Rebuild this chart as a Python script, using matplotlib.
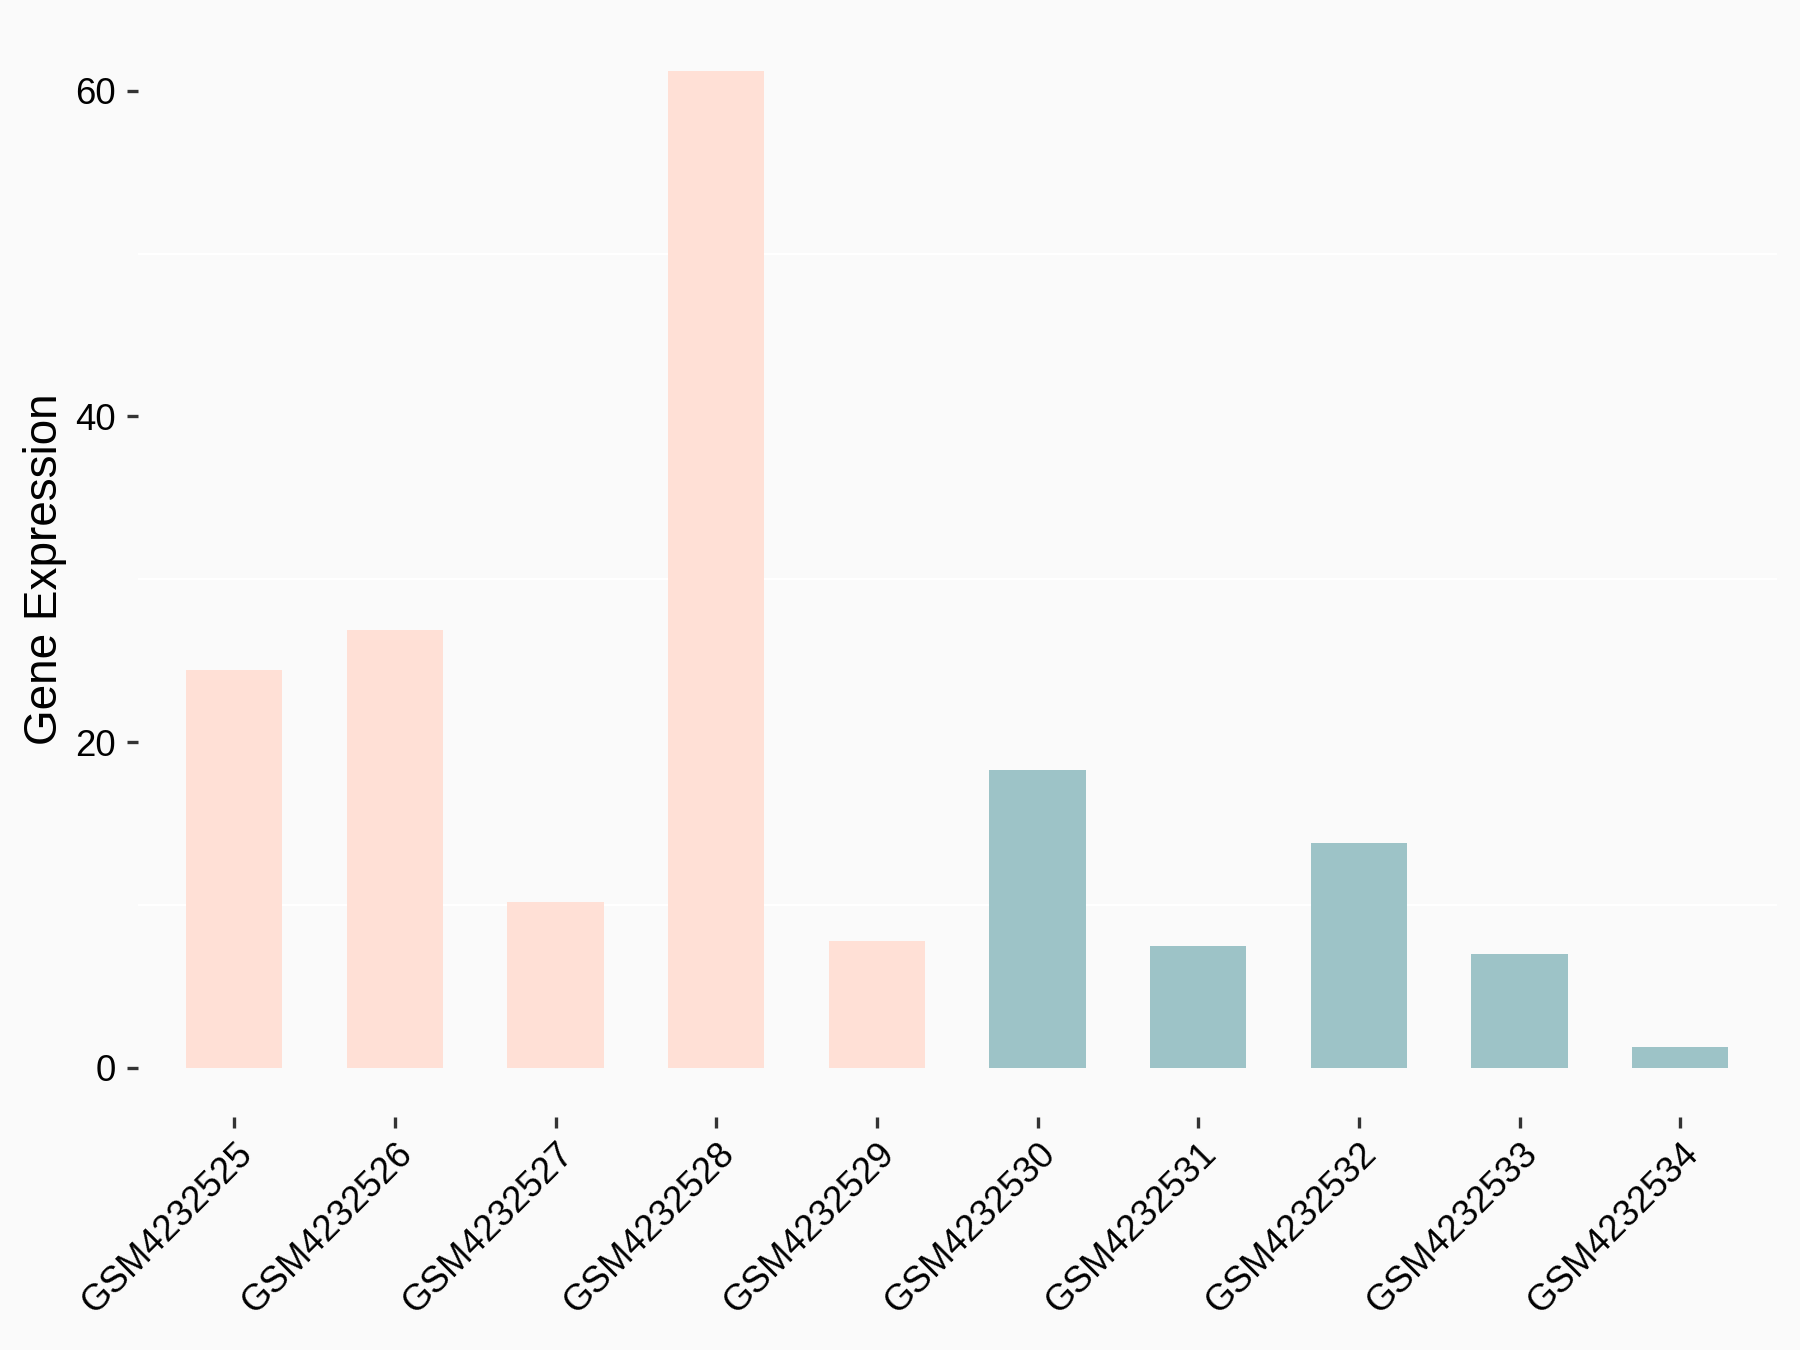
import matplotlib
matplotlib.use("Agg")
import matplotlib.pyplot as plt

samples = ["GSM4232525", "GSM4232526", "GSM4232527", "GSM4232528", "GSM4232529",
           "GSM4232530", "GSM4232531", "GSM4232532", "GSM4232533", "GSM4232534"]
values = [24.4, 26.9, 10.2, 61.2, 7.75, 18.3, 7.45, 13.8, 6.95, 1.27]
groups = ["A", "A", "A", "A", "A", "B", "B", "B", "B", "B"]
group_colors = {"A": "#FFE0D6", "B": "#9DC3C7"}
y_ticks = [0, 20, 40, 60]
y_minor = [10, 30, 50]

plt.rcParams['font.family'] = ['Liberation Sans', 'DejaVu Sans']
fig = plt.figure(figsize=(12, 9), dpi=150, facecolor="#FAFAFA")
ax = fig.add_axes([0.0766, 0.1723, 0.9104, 0.8117])
ax.set_facecolor("#FAFAFA")

x = list(range(len(samples)))
ax.bar(x, values, width=0.6, color=[group_colors[g] for g in groups], zorder=2)

ymax = max(values)
ax.set_xlim(-0.6, len(samples) - 0.4)
ax.set_ylim(-0.05 * ymax, ymax * 1.05)

ax.set_yticks(y_ticks)
ax.set_yticks(y_minor, minor=True)
ax.grid(False)
for v in y_minor:
    ax.axhline(v, color="white", lw=1.0, zorder=1)

for s in ax.spines.values():
    s.set_visible(False)

ax.tick_params(axis='y', which='major', length=5.3, width=1.6, color="#333333",
               labelsize=17.5, pad=5.5, labelcolor="black")
ax.tick_params(axis='y', which='minor', length=0)
ax.tick_params(axis='x', length=5.3, width=1.6, color="#333333",
               labelsize=17.5, pad=4, labelcolor="black")
ax.set_xticks(x)
ax.set_xticklabels(samples, rotation=45, ha='right', va='top', rotation_mode='anchor')

ax.set_ylabel("Gene Expression", fontsize=22, labelpad=3.5)

fig.savefig("out.png", dpi=150, facecolor="#FAFAFA")
